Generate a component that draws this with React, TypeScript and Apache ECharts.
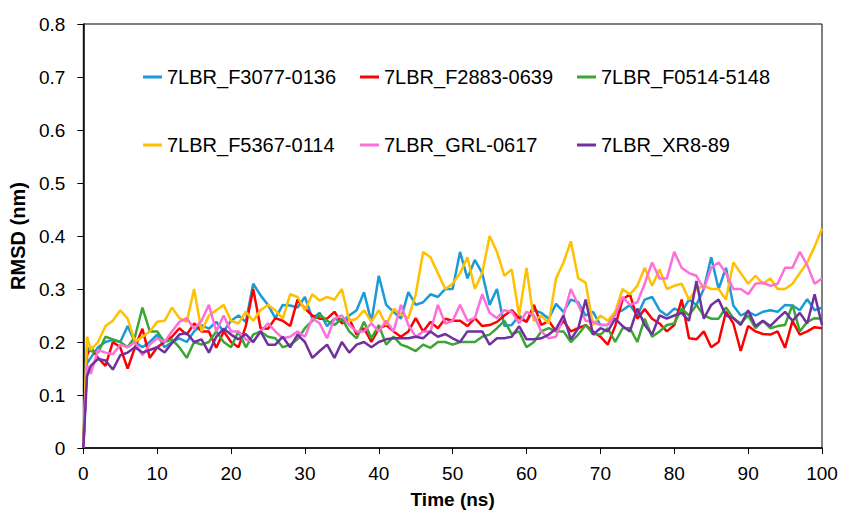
import React, { useEffect, useRef } from "react";
import * as echarts from "echarts";

const times = [0, 0.5, 1, 2, 3, 4, 5, 6, 7, 8, 9, 10, 11, 12, 13, 14, 15, 16, 17, 18, 19, 20, 21, 22, 23, 24, 25, 26, 27, 28, 29, 30, 31, 32, 33, 34, 35, 36, 37, 38, 39, 40, 41, 42, 43, 44, 45, 46, 47, 48, 49, 50, 51, 52, 53, 54, 55, 56, 57, 58, 59, 60, 61, 62, 63, 64, 65, 66, 67, 68, 69, 70, 71, 72, 73, 74, 75, 76, 77, 78, 79, 80, 81, 82, 83, 84, 85, 86, 87, 88, 89, 90, 91, 92, 93, 94, 95, 96, 97, 98, 99, 100];

const seriesNames = ["7LBR_F3077-0136", "7LBR_F2883-0639", "7LBR_F0514-5148", "7LBR_F5367-0114", "7LBR_GRL-0617", "7LBR_XR8-89"];

const f3077 = [0, 0.16, 0.17, 0.19, 0.2, 0.204, 0.2, 0.23, 0.2, 0.19, 0.2, 0.214,
  0.19, 0.2, 0.207, 0.2, 0.22, 0.232, 0.225, 0.238, 0.22, 0.24,
  0.25, 0.238, 0.31, 0.288, 0.27, 0.245, 0.27, 0.269, 0.265, 0.285,
  0.244, 0.255, 0.23, 0.244, 0.238, 0.25, 0.26, 0.294, 0.238, 0.325,
  0.27, 0.257, 0.244, 0.294, 0.27, 0.275, 0.29, 0.285, 0.3, 0.3,
  0.37, 0.32, 0.355, 0.33, 0.27, 0.3, 0.23, 0.232, 0.25, 0.238,
  0.26, 0.255, 0.244, 0.272, 0.257, 0.28, 0.275, 0.25, 0.257, 0.232,
  0.232, 0.255, 0.26, 0.27, 0.25, 0.28, 0.285, 0.26, 0.25, 0.263,
  0.257, 0.28, 0.27, 0.3, 0.36, 0.3, 0.34, 0.269, 0.25, 0.257,
  0.25, 0.257, 0.26, 0.257, 0.27, 0.269, 0.26, 0.281, 0.26, 0.265];

const f2883 = [0, 0.175, 0.19, 0.17, 0.155, 0.2, 0.19, 0.15, 0.19, 0.225, 0.17, 0.19,
  0.2, 0.21, 0.226, 0.214, 0.235, 0.22, 0.22, 0.189, 0.22, 0.2,
  0.19, 0.23, 0.3, 0.226, 0.225, 0.245, 0.24, 0.23, 0.28, 0.263,
  0.25, 0.244, 0.244, 0.257, 0.235, 0.244, 0.214, 0.226, 0.2, 0.225,
  0.232, 0.22, 0.21, 0.22, 0.245, 0.22, 0.238, 0.226, 0.244, 0.24,
  0.24, 0.23, 0.245, 0.23, 0.232, 0.238, 0.25, 0.26, 0.245, 0.238,
  0.27, 0.232, 0.24, 0.22, 0.24, 0.22, 0.226, 0.232, 0.22, 0.21,
  0.195, 0.23, 0.28, 0.29, 0.244, 0.262, 0.244, 0.235, 0.22, 0.232,
  0.28, 0.207, 0.205, 0.22, 0.19, 0.2, 0.257, 0.235, 0.183, 0.23,
  0.22, 0.215, 0.214, 0.22, 0.189, 0.24, 0.214, 0.22, 0.228, 0.226];

const f0514 = [0, 0.19, 0.183, 0.18, 0.21, 0.205, 0.2, 0.19, 0.21, 0.265, 0.22, 0.22,
  0.2, 0.205, 0.19, 0.17, 0.2, 0.195, 0.2, 0.22, 0.2, 0.19,
  0.22, 0.19, 0.214, 0.22, 0.21, 0.207, 0.19, 0.195, 0.205, 0.226,
  0.24, 0.252, 0.24, 0.232, 0.244, 0.22, 0.207, 0.238, 0.207, 0.232,
  0.195, 0.21, 0.195, 0.19, 0.183, 0.195, 0.189, 0.2, 0.2, 0.195,
  0.2, 0.2, 0.2, 0.21, 0.214, 0.226, 0.24, 0.215, 0.22, 0.19,
  0.2, 0.22, 0.226, 0.22, 0.22, 0.2, 0.214, 0.232, 0.215, 0.214,
  0.226, 0.2, 0.226, 0.226, 0.2, 0.244, 0.21, 0.22, 0.232, 0.235,
  0.263, 0.25, 0.27, 0.25, 0.244, 0.244, 0.265, 0.245, 0.235, 0.25,
  0.226, 0.24, 0.226, 0.23, 0.232, 0.27, 0.22, 0.238, 0.245, 0.244];

const f5367 = [0, 0.21, 0.185, 0.2, 0.23, 0.24, 0.26, 0.244, 0.2, 0.21, 0.22, 0.238,
  0.24, 0.265, 0.245, 0.238, 0.3, 0.22, 0.25, 0.26, 0.27, 0.24,
  0.235, 0.257, 0.24, 0.26, 0.27, 0.26, 0.244, 0.29, 0.285, 0.26,
  0.29, 0.278, 0.285, 0.28, 0.3, 0.24, 0.244, 0.26, 0.238, 0.26,
  0.232, 0.262, 0.252, 0.245, 0.29, 0.37, 0.36, 0.33, 0.3, 0.31,
  0.33, 0.36, 0.3, 0.33, 0.4, 0.37, 0.325, 0.337, 0.25, 0.34,
  0.24, 0.25, 0.235, 0.32, 0.35, 0.39, 0.32, 0.312, 0.232, 0.25,
  0.24, 0.257, 0.3, 0.29, 0.306, 0.34, 0.306, 0.337, 0.3, 0.306,
  0.31, 0.28, 0.3, 0.306, 0.3, 0.3, 0.28, 0.35, 0.33, 0.31,
  0.325, 0.31, 0.32, 0.3, 0.3, 0.31, 0.33, 0.35, 0.38, 0.414];

const grl0617 = [0, 0.155, 0.14, 0.185, 0.18, 0.177, 0.195, 0.19, 0.2, 0.175, 0.195, 0.207,
  0.2, 0.22, 0.238, 0.245, 0.225, 0.24, 0.27, 0.22, 0.25, 0.22,
  0.22, 0.205, 0.2, 0.22, 0.235, 0.22, 0.207, 0.21, 0.22, 0.21,
  0.245, 0.235, 0.207, 0.244, 0.25, 0.232, 0.22, 0.22, 0.235, 0.22,
  0.24, 0.22, 0.27, 0.232, 0.21, 0.22, 0.22, 0.27, 0.235, 0.24,
  0.27, 0.24, 0.245, 0.29, 0.255, 0.245, 0.26, 0.257, 0.235, 0.257,
  0.25, 0.22, 0.207, 0.21, 0.25, 0.3, 0.27, 0.24, 0.238, 0.232,
  0.232, 0.25, 0.285, 0.27, 0.275, 0.31, 0.35, 0.32, 0.32, 0.37,
  0.34, 0.33, 0.325, 0.3, 0.34, 0.35, 0.33, 0.3, 0.3, 0.29,
  0.31, 0.312, 0.306, 0.31, 0.34, 0.34, 0.37, 0.345, 0.31, 0.32];

const xr889 = [0, 0.135, 0.155, 0.168, 0.165, 0.148, 0.175, 0.18, 0.19, 0.18, 0.185, 0.19,
  0.18, 0.198, 0.214, 0.217, 0.2, 0.205, 0.18, 0.21, 0.225, 0.214,
  0.205, 0.215, 0.2, 0.22, 0.195, 0.195, 0.21, 0.19, 0.214, 0.2,
  0.17, 0.183, 0.195, 0.17, 0.2, 0.18, 0.195, 0.2, 0.19, 0.2,
  0.205, 0.207, 0.207, 0.207, 0.21, 0.207, 0.22, 0.21, 0.215, 0.207,
  0.2, 0.22, 0.22, 0.22, 0.195, 0.207, 0.207, 0.21, 0.23, 0.205,
  0.205, 0.207, 0.214, 0.225, 0.25, 0.205, 0.226, 0.28, 0.214, 0.226,
  0.22, 0.244, 0.23, 0.22, 0.263, 0.232, 0.214, 0.25, 0.244, 0.25,
  0.255, 0.24, 0.315, 0.244, 0.27, 0.28, 0.25, 0.245, 0.232, 0.26,
  0.23, 0.24, 0.23, 0.244, 0.257, 0.24, 0.255, 0.235, 0.29, 0.232];

const seriesValues = [f3077, f2883, f0514, f5367, grl0617, xr889];
const seriesColors = ["#1a9ad6", "#ff0000", "#3ba535", "#ffc000", "#ff6fd8", "#7030a0"];

const legendLeft = [143, 360, 577, 143, 360, 577];
const legendTop = [67, 67, 67, 135, 135, 135];

const FONT = "Arial, 'Liberation Sans', sans-serif";

export default function App() {
  const ref = useRef<HTMLDivElement>(null);
  useEffect(() => {
    if (!ref.current) return;
    document.body.style.margin = "0";
    const chart = echarts.init(ref.current, null, { renderer: "svg" });
    const series = seriesNames.map((name, i) => ({
      name,
      type: "line",
      data: times.map((t, j) => [t, seriesValues[i][j]]),
      showSymbol: false,
      symbol: "none",
      lineStyle: { color: seriesColors[i], width: 2.5 },
      itemStyle: { color: seriesColors[i] },
    }));
    const legend = seriesNames.map((name, i) => ({
      data: [name],
      left: legendLeft[i],
      top: legendTop[i],
      padding: 0,
      icon: "rect",
      itemWidth: 19,
      itemHeight: 3,
      textStyle: { fontFamily: FONT, fontSize: 20, color: "#000" },
    }));
    chart.setOption({
      animation: false,
      backgroundColor: "#fff",
      legend,
      grid: {
        left: 82,
        right: 19,
        top: 24,
        bottom: 60,
        show: true,
        borderColor: "#000",
        borderWidth: 1,
        containLabel: false,
      },
      xAxis: {
        type: "value",
        min: 0,
        max: 100,
        interval: 10,
        name: "Time (ns)",
        nameLocation: "middle",
        nameGap: 42,
        nameTextStyle: { fontFamily: FONT, fontSize: 19, fontWeight: "bold", color: "#000" },
        axisLine: { show: true, onZero: false, lineStyle: { color: "#000", width: 1.5 } },
        axisTick: { show: true, inside: false, length: 6, lineStyle: { color: "#000", width: 1 } },
        axisLabel: { fontFamily: FONT, fontSize: 19, color: "#000", margin: 16 },
        splitLine: { show: false },
      },
      yAxis: {
        type: "value",
        min: 0,
        max: 0.8,
        interval: 0.1,
        name: "RMSD (nm)",
        nameLocation: "middle",
        nameGap: 48,
        nameTextStyle: { fontFamily: FONT, fontSize: 20, fontWeight: "bold", color: "#000" },
        axisLine: { show: true, lineStyle: { color: "#000", width: 1.5 } },
        axisTick: { show: true, inside: false, length: 6, lineStyle: { color: "#000", width: 1 } },
        axisLabel: {
          fontFamily: FONT,
          fontSize: 19,
          color: "#000",
          margin: 18,
          formatter: (v: number) => String(Math.round(v * 10) / 10),
        },
        splitLine: { show: false },
      },
      series,
    });
    return () => chart.dispose();
  }, []);
  return (
    <div
      ref={ref}
      style={{ position: "absolute", left: 0, top: 0, width: 841, height: 514 }}
    />
  );
}
